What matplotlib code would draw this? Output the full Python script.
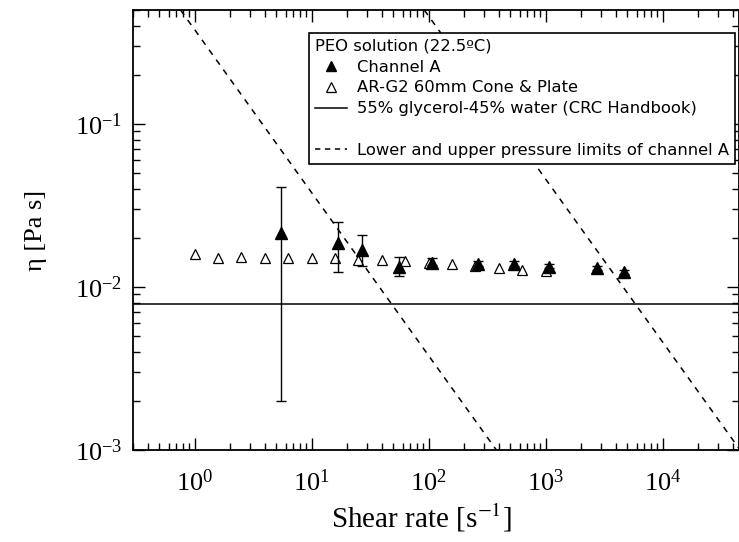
import matplotlib
matplotlib.use("Agg")
import matplotlib.pyplot as plt
from matplotlib.lines import Line2D
from matplotlib.ticker import LogLocator, NullFormatter

plt.rcParams['font.family'] = 'Liberation Serif'
plt.rcParams['mathtext.fontset'] = 'stix'

# AR-G2 60mm cone & plate (open triangles)
ar_rate = [1.0, 1.58, 2.51, 3.98, 6.31, 10.0, 15.8, 25.1, 39.8, 63.1,
           100, 158, 251, 398, 631, 1000]
ar_eta = [0.0159, 0.0151, 0.0152, 0.0151, 0.0151, 0.0151, 0.0150, 0.0147,
          0.0146, 0.0144, 0.0141, 0.0138, 0.0134, 0.0130, 0.0127, 0.0125]

# Channel A (filled triangles with error bars)
ch_rate = [5.5, 16.7, 27, 55.4, 107, 267, 537, 1070, 2730, 4640]
ch_eta = [0.0213, 0.0185, 0.0168, 0.0133, 0.0141, 0.0138, 0.0139, 0.0133, 0.0131, 0.0123]
ch_lo = [0.0020, 0.0124, 0.0134, 0.0116, 0.0136, 0.0134, 0.0135, 0.0130, 0.0128, 0.0120]
ch_hi = [0.0412, 0.0251, 0.0208, 0.0152, 0.0150, 0.0144, 0.0145, 0.0138, 0.0135, 0.0127]

# 55% glycerol - 45% water reference viscosity
glycerol_eta = 0.0079

# pressure limits of channel A (end points of each dashed line)
low_rate = [0.76, 380]
low_eta = [0.5, 0.001]
high_rate = [92, 46000]
high_eta = [0.5, 0.001]

xlim = (0.3, 4.5e4)
ylim = (1e-3, 0.5)

fig = plt.figure(figsize=(7.39, 5.42), dpi=100)
ax = fig.add_axes([0.1804, 0.1697, 0.8196, 0.8118])

ax.set_xscale('log')
ax.set_yscale('log')
ax.set_xlim(*xlim)
ax.set_ylim(*ylim)

ax.axhline(glycerol_eta, color='black', lw=1.1)
ax.plot(low_rate, low_eta, color='black', lw=1.1, ls=(0, (4, 4)))
ax.plot(high_rate, high_eta, color='black', lw=1.1, ls=(0, (4, 4)))

ax.plot(ar_rate, ar_eta, ls='none', marker='^', ms=7.5, mfc='white',
        mec='black', mew=0.9)

yerr = [[e - l for e, l in zip(ch_eta, ch_lo)], [h - e for e, h in zip(ch_eta, ch_hi)]]
ax.errorbar(ch_rate, ch_eta, yerr=yerr, fmt='^', ms=8, color='black',
            mfc='black', mec='black', ecolor='black', elinewidth=1.0,
            capsize=3.5, capthick=1.0)

for s in ax.spines.values():
    s.set_linewidth(1.3)

ax.xaxis.set_major_locator(LogLocator(base=10, numticks=20))
ax.xaxis.set_minor_locator(LogLocator(base=10, subs=range(2, 10), numticks=20))
ax.yaxis.set_major_locator(LogLocator(base=10, numticks=20))
ax.yaxis.set_minor_locator(LogLocator(base=10, subs=range(2, 10), numticks=20))
ax.xaxis.set_minor_formatter(NullFormatter())
ax.yaxis.set_minor_formatter(NullFormatter())

ax.tick_params(which='both', direction='in', top=True, right=True, width=1.0,
               labelsize=19, pad=8)
ax.tick_params(axis='x', pad=14)
ax.tick_params(which='major', length=8.6)
ax.tick_params(which='minor', length=5)

ax.set_xlabel('Shear rate [s$^{-1}$]', fontsize=21)
ax.xaxis.set_label_coords(0.475, -0.118)
ax.set_ylabel('η [Pa s]', fontsize=19, labelpad=20)

handles = [
    Line2D([], [], ls='none', marker='^', ms=7, color='black'),
    Line2D([], [], ls='none', marker='^', ms=7, mfc='white', mec='black', mew=0.9),
    Line2D([], [], color='black', lw=1.1),
    Line2D([], [], ls='none'),
    Line2D([], [], color='black', lw=1.1, ls=(0, (3.5, 3))),
]
labels = ['Channel A', 'AR-G2 60mm Cone & Plate',
          '55% glycerol-45% water (CRC Handbook)', ' ',
          'Lower and upper pressure limits of channel A']
leg = ax.legend(handles, labels, title='PEO solution (22.5ºC)',
                loc='upper right', bbox_to_anchor=(0.9937, 0.948),
                prop={'family': 'DejaVu Sans', 'size': 11.8},
                title_fontproperties={'family': 'DejaVu Sans', 'size': 11.8},
                alignment='left', fancybox=False, framealpha=1,
                edgecolor='black', handlelength=2.0, handletextpad=0.6,
                labelspacing=0.36, borderpad=0.35, borderaxespad=0)
leg.get_frame().set_linewidth(1.2)

fig.savefig('out.png', dpi=100)
